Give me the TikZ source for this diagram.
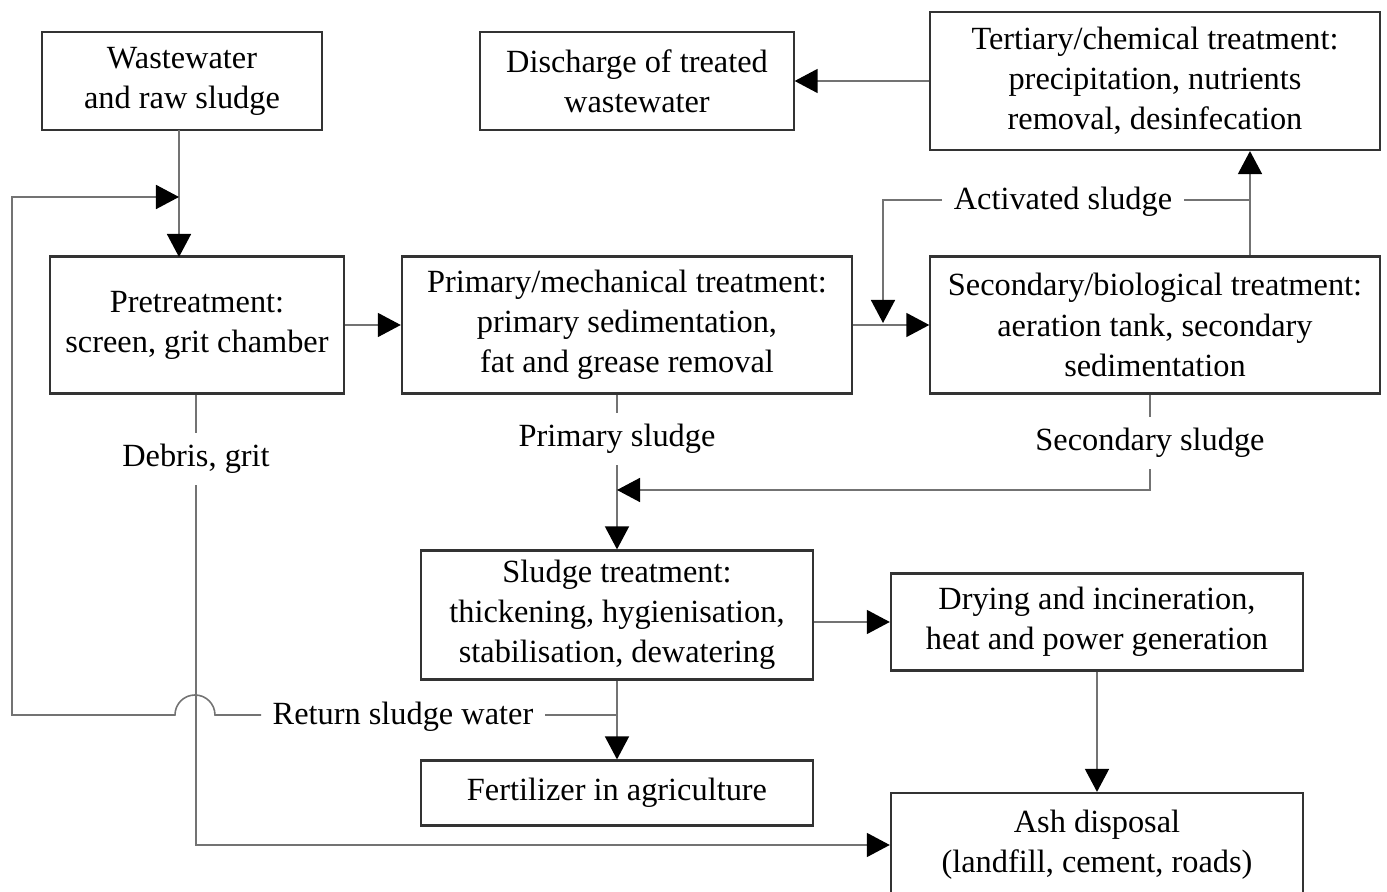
\documentclass[tikz,border=0pt]{standalone}
\usepackage{fontspec}
\setmainfont{Liberation Serif}
\usetikzlibrary{arrows.meta,positioning}

\begin{document}
\begin{tikzpicture}[x=0.01cm,y=-0.01cm,
font=\fontsize{9.2}{11.4}\selectfont,
stage/.style={draw=black!80,line width=.6pt,fill=white,align=center,inner sep=0pt},
flowlabel/.style={fill=white,inner sep=1.1mm},
link/.style={draw=black!55,line width=.45pt},
arr/.style={link,-{Triangle[length=2.3mm,width=2.4mm,black]}}]
\clip (0,0) rectangle (1387,892);
\useasboundingbox (0,0) rectangle (1387,892);
% stages of the plant
\node[stage,minimum width=2.8cm,minimum height=.98cm](ww) at (182,81){Wastewater\\and raw sludge};
\node[stage,minimum width=3.13cm,minimum height=.98cm](dis) at (637,81){Discharge of treated\\wastewater};
\node[stage,minimum width=4.49cm,minimum height=1.38cm](ter) at (1155,81){Tertiary/chemical treatment:\\precipitation, nutrients\\removal, desinfecation};
\node[stage,minimum width=2.94cm,minimum height=1.37cm](pre) at (197,325){Pretreatment:\\screen, grit chamber};
\node[stage,minimum width=4.5cm,minimum height=1.37cm](pri) at (627,325){Primary/mechanical treatment:\\primary sedimentation,\\fat and grease removal};
\node[stage,minimum width=4.49cm,minimum height=1.37cm](sec) at (1155,325){Secondary/biological treatment:\\aeration tank, secondary\\sedimentation};
\node[stage,minimum width=3.91cm,minimum height=1.29cm](slu) at (617,615){Sludge treatment:\\thickening, hygienisation,\\stabilisation, dewatering};
\node[stage,minimum width=4.12cm,minimum height=.97cm](dry) at (1097,622){Drying and incineration,\\heat and power generation};
\node[stage,minimum width=3.91cm,minimum height=.65cm](fer) at (617,793){Fertilizer in agriculture};
\node[stage,minimum width=4.12cm,minimum height=1.04cm](ash) at (1097,845){Ash disposal\\(landfill, cement, roads)};
% labels on the lines
\node[flowlabel](act) at (1063,202){Activated sludge};
\node[flowlabel](psl) at (617,439){Primary sludge};
\node[flowlabel](ssl) at (1150,443){Secondary sludge};
\node[flowlabel](deb) at (196,459){Debris, grit};
\node[flowlabel](ret) at (403,717){Return sludge water};
% junctions and corners
\coordinate (in1) at (179,197);
\coordinate (actR) at (1250,200);
\coordinate (actL) at (883,323);
\coordinate (sj) at (617,490);
\coordinate (rj) at (617,715);
\coordinate (hopR) at (215,715);
\coordinate (retL) at (12,715);
% main water line
\draw[arr](179,130)--(179,257);
\draw[arr](pre)--(pri);
\draw[arr](pri)--(sec);
\draw[arr](sec.north -| actR)--(ter.south -| actR);
\draw[arr](ter)--(dis);
\draw[link](actR)--(act.east |- actR);
\draw[arr](act.west |- actR)-|(actL);
% sludge line
\draw[link](pri.south -| psl)--(psl);
\draw[arr](psl)--(slu);
\draw[link](sec.south -| ssl)--(ssl);
\draw[arr](ssl)|-(sj);
\draw[arr](slu.east |- dry)--(dry);
\draw[arr](dry)--(ash);
\draw[arr](slu)--(fer);
\draw[link](rj)--(ret.east |- rj);
\draw[arr](ret.west |- rj)--(hopR) arc[start angle=0,end angle=180,radius=0.2cm]--(retL)|-(in1);
\draw[link](pre.south -| deb)--(deb);
\draw[arr](deb)|-(ash.west);
\end{tikzpicture}
\end{document}
